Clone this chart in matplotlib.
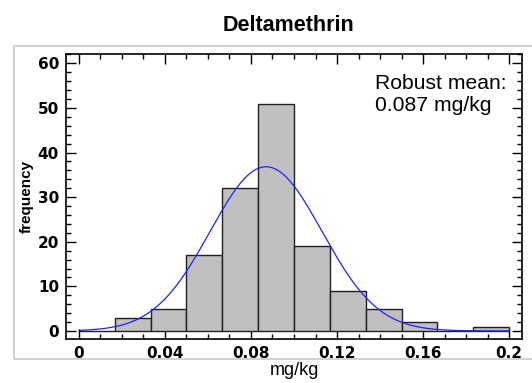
import numpy as np
import matplotlib.pyplot as plt
from matplotlib.patches import Rectangle
from matplotlib.ticker import MultipleLocator

# histogram bins (mg/kg) and counts
bin_edges = [0.0, 1/60, 2/60, 3/60, 4/60, 5/60, 6/60, 7/60, 8/60, 9/60, 10/60, 11/60, 12/60]
counts = [0, 3, 5, 17, 32, 51, 19, 9, 5, 2, 0, 1]

# fitted normal curve parameters
robust_mean = 0.087
robust_sd = 0.026
n_total = sum(counts)

fig = plt.figure(figsize=(5.32, 3.83), dpi=100)
fig.patches.append(Rectangle((14/532, 24/383), 1.0, (359-46)/383, transform=fig.transFigure,
                             fill=False, edgecolor='#c8c8c8', linewidth=1.2))
ax = fig.add_axes([66/532, 44/383, 456/532, 285/383])

widths = np.diff(bin_edges)
ax.bar(bin_edges[:-1], counts, width=widths, align='edge',
       color='#c0c0c0', edgecolor='#202020', linewidth=1.0, zorder=2)

x = np.linspace(0, 0.2, 300)
bw = widths[0]
y = n_total * bw / (robust_sd * np.sqrt(2*np.pi)) * np.exp(-0.5*((x - robust_mean)/robust_sd)**2)
ax.plot(x, y, color='#2020ff', linewidth=0.9, zorder=3)

ax.set_xlim(-0.006, 0.206)
ax.set_ylim(-1.8, 62.1)
ax.xaxis.set_major_locator(MultipleLocator(0.04))
ax.xaxis.set_minor_locator(MultipleLocator(0.01))
ax.yaxis.set_major_locator(MultipleLocator(10))
ax.yaxis.set_minor_locator(MultipleLocator(2))
ax.set_xticks([0, 0.04, 0.08, 0.12, 0.16, 0.2])
ax.set_xticklabels(['0', '0.04', '0.08', '0.12', '0.16', '0.2'])
ax.tick_params(which='both', direction='in', top=True, right=True, width=1.0)
ax.tick_params(which='major', length=7, pad=5)
ax.tick_params(which='minor', length=3.5)
for lab in ax.get_xticklabels() + ax.get_yticklabels():
    lab.set_fontfamily('DejaVu Sans')
    lab.set_fontweight('bold')
    lab.set_fontsize(11)
for s in ax.spines.values():
    s.set_linewidth(1.2)

ax.set_xlabel('mg/kg', fontsize=13, family='Liberation Sans', labelpad=1)
ax.set_ylabel('frequency', fontsize=11, family='Liberation Sans', fontweight='bold', labelpad=3)
fig.text(0.543, 0.934, 'Deltamethrin', ha='center', va='center',
         fontsize=15.5, family='Liberation Sans', fontweight='bold')
ax.text(0.678, 0.93, 'Robust mean:\n0.087 mg/kg', transform=ax.transAxes,
        ha='left', va='top', fontsize=15.2, family='Liberation Sans', linespacing=1.2)

fig.savefig('out.png', dpi=100)
